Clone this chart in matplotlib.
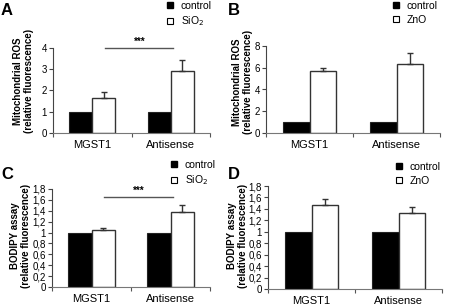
import numpy as np
import matplotlib
matplotlib.use("Agg")
import matplotlib.pyplot as plt
from matplotlib.lines import Line2D

plt.rcParams['font.family'] = ['Liberation Sans', 'DejaVu Sans']

# data
groups = ["MGST1", "Antisense"]

rosSiO2_ctrl = [1.0, 1.0]
rosSiO2_trt = [1.65, 2.92]
rosSiO2_err = [0.28, 0.5]

rosZnO_ctrl = [1.0, 1.0]
rosZnO_trt = [5.7, 6.3]
rosZnO_err = [0.3, 1.05]

bodSiO2_ctrl = [1.0, 1.0]
bodSiO2_trt = [1.05, 1.37]
bodSiO2_err = [0.03, 0.14]

bodZnO_ctrl = [1.0, 1.0]
bodZnO_trt = [1.47, 1.33]
bodZnO_err = [0.1, 0.1]

W, H = 451, 308
fig = plt.figure(figsize=(W/100, H/100), dpi=100)

def rect(l, r, t, b):
    return [l/W, (H-b)/H, (r-l)/W, (b-t)/H]

def panel(pos, ctrl, trt, err, ymax, step, ylabel, comma, bw, lab_xy, xpad):
    ax = fig.add_axes(rect(*pos))
    x = np.arange(len(groups))
    ax.bar(x-bw/2, ctrl, bw, color='black', edgecolor='#222222', lw=0.8, zorder=2)
    ax.bar(x+bw/2, trt, bw, color='white', edgecolor='#333333', lw=1.0, zorder=2)
    ax.errorbar(x+bw/2, trt, yerr=[np.zeros(len(err)), err], fmt='none',
                ecolor='#333333', elinewidth=1.0, capsize=2.5, capthick=1.0, zorder=3)
    ax.set_xlim(-0.5, 1.5)
    ax.set_ylim(0, ymax)
    ticks = np.arange(0, ymax+step/2, step)
    ax.set_yticks(ticks)
    if comma:
        ax.set_yticklabels([('%g' % t).replace('.', ',') for t in ticks])
    ax.set_xticks([-0.5, 0.5, 1.5])
    ax.set_xticklabels([])
    ax.set_xticks(x, minor=True)
    ax.set_xticklabels(groups, minor=True, fontsize=8)
    ax.tick_params(axis='x', which='minor', length=0, pad=xpad)
    ax.tick_params(axis='x', which='major', length=3, direction='out', color='#555555')
    ax.tick_params(axis='y', length=3, direction='out', labelsize=7, pad=1.5, color='#444444')
    for s in ['top', 'right']:
        ax.spines[s].set_visible(False)
    ax.spines['left'].set_color('#444444')
    ax.spines['bottom'].set_color('#777777')
    ax.set_ylabel(ylabel, fontsize=7, fontweight='bold', linespacing=1.1)
    # label x = right edge of the rotated label, y = its centre
    l, r, t, b = pos
    ax.yaxis.set_label_coords((lab_xy[0]-l)/(r-l), (b-lab_xy[1])/(b-t))
    return ax

axA = panel((53, 210, 48, 133), rosSiO2_ctrl, rosSiO2_trt, rosSiO2_err, 4, 1,
            "Mitochondrial ROS\n(relative fluorescence)", False, 0.295, (34, 81), 5)
axB = panel((266, 440, 46, 133), rosZnO_ctrl, rosZnO_trt, rosZnO_err, 8, 2,
            "Mitochondrial ROS\n(relative fluorescence)", False, 0.31, (253, 82), 5)
axC = panel((52, 210, 189, 287), bodSiO2_ctrl, bodSiO2_trt, bodSiO2_err, 1.8, 0.2,
            "BODIPY assay\n(relative fluorescence)", True, 0.295, (31, 236), 5)
axD = panel((268, 442, 186, 289), bodZnO_ctrl, bodZnO_trt, bodZnO_err, 1.8, 0.2,
            "BODIPY assay\n(relative fluorescence)", True, 0.31, (248, 236), 5)

# significance bars
for ax, yv in [(axA, 4.0), (axC, 1.66)]:
    ax.plot([0.16, 1.03], [yv, yv], color='#555555', lw=1.0, clip_on=False)
    ax.text(0.6, yv*1.01, "***", ha='center', va='bottom', fontsize=7, fontweight='bold')

# legends
def legend(x, y, label2):
    h = [Line2D([], [], ls='none', marker='s', ms=4, mfc='black', mec='black'),
         Line2D([], [], ls='none', marker='s', ms=4, mfc='white', mec='black', mew=0.8)]
    fig.legend(h, ["control", label2], loc='upper left', bbox_to_anchor=(x/W, 1-y/H),
               frameon=False, fontsize=7.5, handlelength=0.8, handletextpad=0.6,
               labelspacing=0.35, borderpad=0, borderaxespad=0)

legend(166, 1, "SiO$_2$")
legend(392, 1, "ZnO")
legend(170, 160, "SiO$_2$")
legend(395, 162, "ZnO")

# panel letters
for lx, ly, s in [(1, 15, "A"), (228, 15, "B"), (1, 179, "C"), (228, 179, "D")]:
    fig.text(lx/W, 1-ly/H, s, fontsize=12, fontweight='bold', va='baseline')

fig.savefig("out.png", dpi=100)
